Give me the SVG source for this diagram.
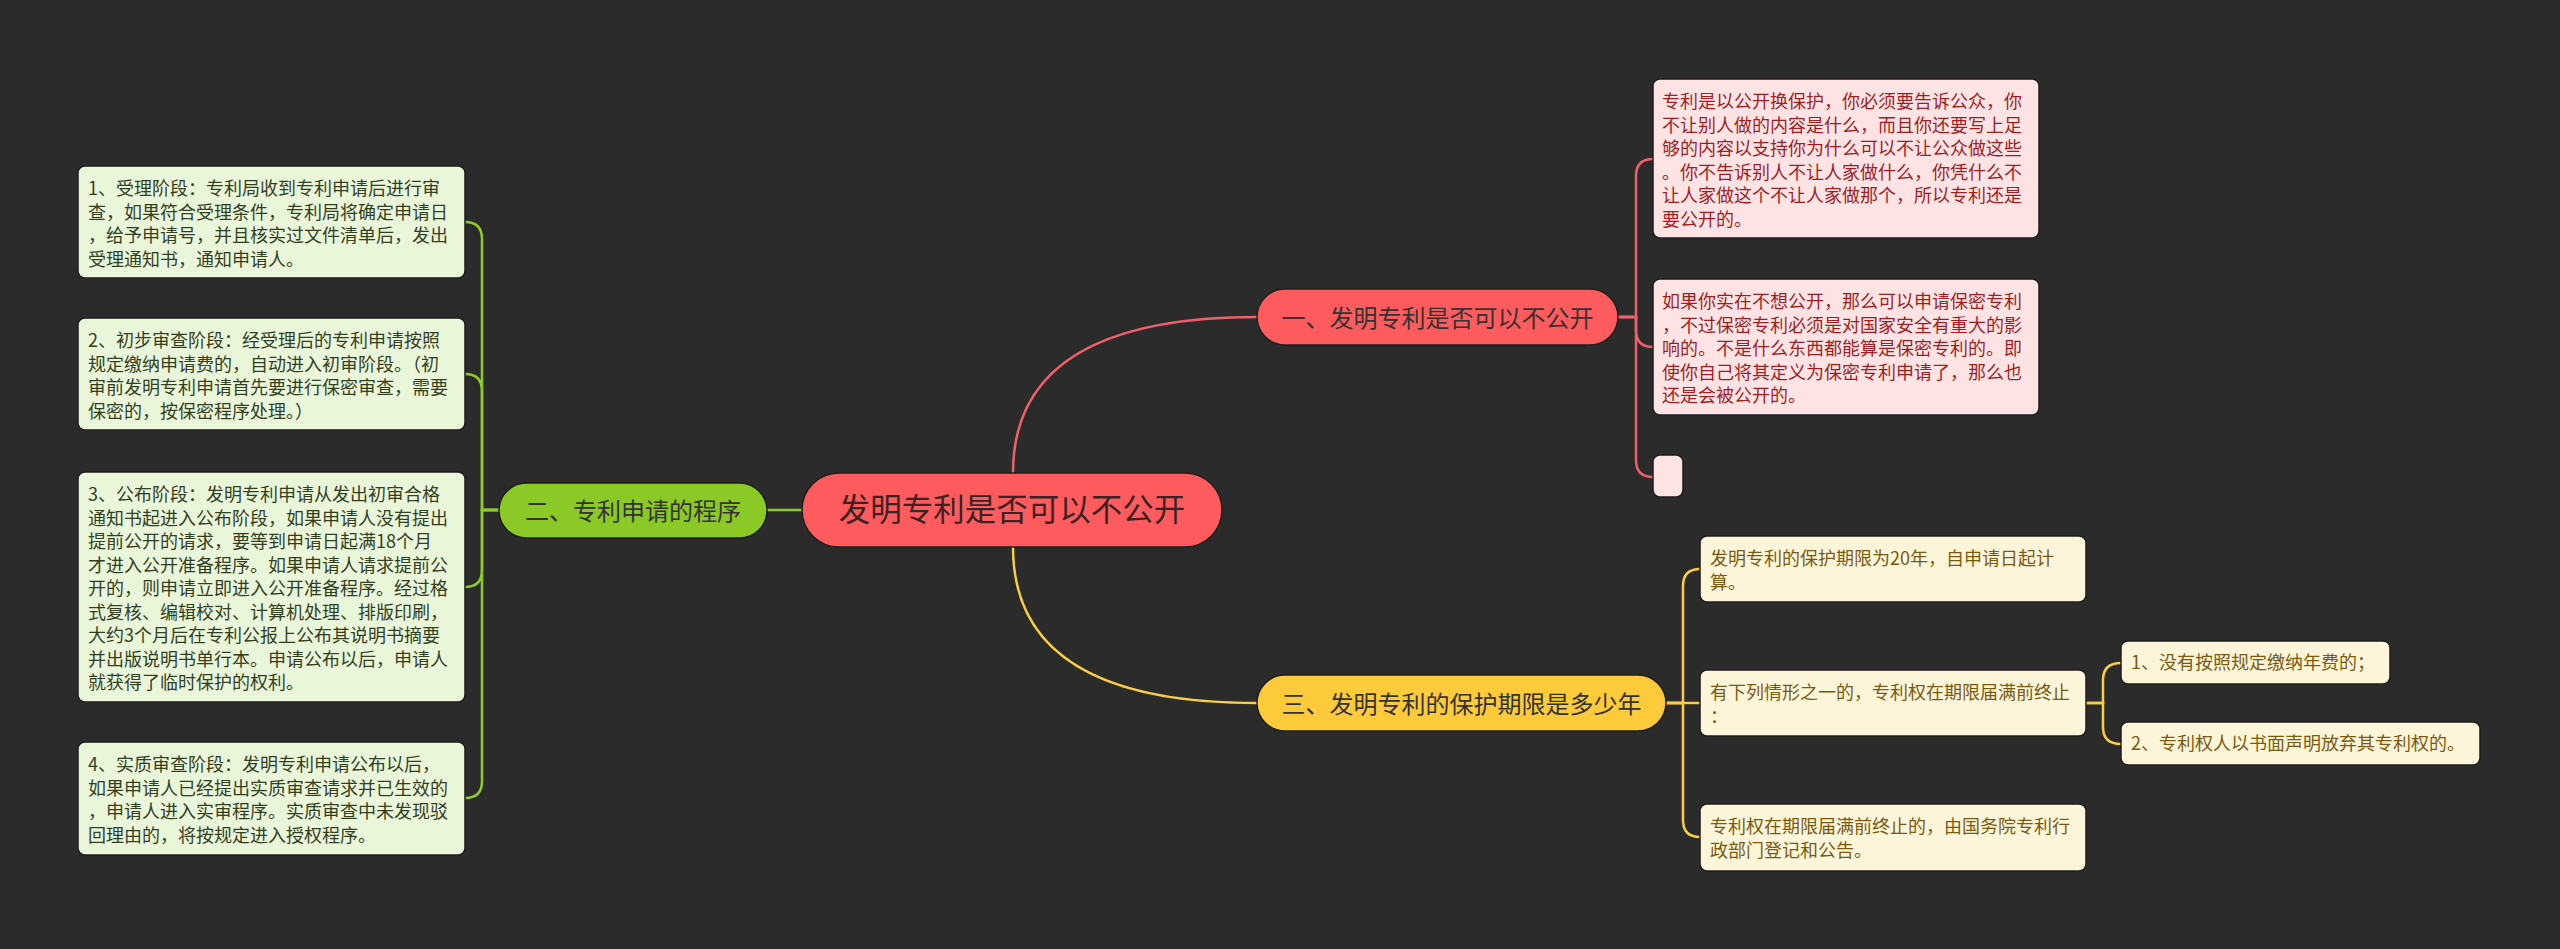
<svg xmlns="http://www.w3.org/2000/svg" width="2560" height="949" viewBox="0 0 2560 949">
<style>
text{font-family:"Noto Sans CJK SC","Noto Sans",sans-serif;}
.root{fill:#fd5b5e;stroke:#1e1e1e;stroke-width:1.5}
.rt{font-size:31.5px;fill:#3b2323;text-anchor:middle}
.br-p{fill:#fd5b5e;stroke:#1e1e1e;stroke-width:1.5}
.br-g{fill:#8bc926;stroke:#1e1e1e;stroke-width:1.5}
.br-y{fill:#fdca3b;stroke:#1e1e1e;stroke-width:1.5}
.bt{font-size:24px;fill:#333;text-anchor:middle}
.bx-g{fill:#eaf6da;stroke:#1e1e1e;stroke-width:1.5}
.bx-p{fill:#fde3e4;stroke:#1e1e1e;stroke-width:1.5}
.bx-y{fill:#fdf5da;stroke:#1e1e1e;stroke-width:1.5}
.t-g{font-size:18px;fill:#33401f}
.t-p{font-size:18px;fill:#9c1f24}
.t-y{font-size:18px;fill:#7a5a0f}
.cp{fill:none;stroke:#f0606a;stroke-width:2.5}
.cg{fill:none;stroke:#8dcb2a;stroke-width:2.5}
.cy{fill:none;stroke:#f9ce45;stroke-width:2.5}
</style>
<rect width="2560" height="949" fill="#2b2b2b"/>
<g id="connectors">
<path class="cp" d="M1013 473 Q1013 317 1257 317"/>
<path class="cy" d="M1013 547 Q1013 703 1257 703"/>
<path class="cg" d="M802 510 H767"/>
<path class="cp" d="M1618 317 H1636 V176 Q1636 159 1653 159"/>
<path class="cp" d="M1618 317 H1636 V330 Q1636 347 1653 347"/>
<path class="cp" d="M1618 317 H1636 V460 Q1636 477 1653 477"/>
<path class="cg" d="M499 510 H482 V239 Q482 222 465 222"/>
<path class="cg" d="M499 510 H482 V391 Q482 374 465 374"/>
<path class="cg" d="M499 510 H482 V570 Q482 587 465 587"/>
<path class="cg" d="M499 510 H482 V781 Q482 798 465 798"/>
<path class="cy" d="M1666 703 H1683 V586 Q1683 569 1700 569"/>
<path class="cy" d="M1666 703 H1700"/>
<path class="cy" d="M1666 703 H1683 V820 Q1683 837 1700 837"/>
<path class="cy" d="M2086 703 H2103 V680 Q2103 663 2121 663"/>
<path class="cy" d="M2086 703 H2103 V727 Q2103 744 2121 744"/>
</g>
<g id="root">
<rect class="root" x="802" y="473" width="420" height="74" rx="37"/>
<text class="rt" x="1012" y="521">发明专利是否可以不公开</text>
</g>
<g id="branch1">
<rect class="br-p" x="1257" y="289" width="361" height="56" rx="28"/>
<text class="bt" x="1437.5" y="327">一、发明专利是否可以不公开</text>
</g>
<g id="branch2">
<rect class="br-g" x="499" y="483" width="268" height="55" rx="27.5"/>
<text class="bt" x="633" y="520">二、专利申请的程序</text>
</g>
<g id="branch3">
<rect class="br-y" x="1257" y="675" width="409" height="56" rx="28"/>
<text class="bt" x="1461.5" y="713">三、发明专利的保护期限是多少年</text>
</g>
<g id="g1">
<rect class="bx-g" x="78" y="166" width="387" height="112" rx="7"/>
<text class="t-g" x="88" y="195"><tspan x="88">1、受理阶段：专利局收到专利申请后进行审</tspan><tspan x="88" dy="23.5">查，如果符合受理条件，专利局将确定申请日</tspan><tspan x="88" dy="23.5">，给予申请号，并且核实过文件清单后，发出</tspan><tspan x="88" dy="23.5">受理通知书，通知申请人。</tspan></text>
</g>
<g id="g2">
<rect class="bx-g" x="78" y="318" width="387" height="112" rx="7"/>
<text class="t-g" x="88" y="347"><tspan x="88">2、初步审查阶段：经受理后的专利申请按照</tspan><tspan x="88" dy="23.5">规定缴纳申请费的，自动进入初审阶段。（初</tspan><tspan x="88" dy="23.5">审前发明专利申请首先要进行保密审查，需要</tspan><tspan x="88" dy="23.5">保密的，按保密程序处理。）</tspan></text>
</g>
<g id="g3">
<rect class="bx-g" x="78" y="472" width="387" height="230" rx="7"/>
<text class="t-g" x="88" y="501"><tspan x="88">3、公布阶段：发明专利申请从发出初审合格</tspan><tspan x="88" dy="23.5">通知书起进入公布阶段，如果申请人没有提出</tspan><tspan x="88" dy="23.5">提前公开的请求，要等到申请日起满18个月</tspan><tspan x="88" dy="23.5">才进入公开准备程序。如果申请人请求提前公</tspan><tspan x="88" dy="23.5">开的，则申请立即进入公开准备程序。经过格</tspan><tspan x="88" dy="23.5">式复核、编辑校对、计算机处理、排版印刷，</tspan><tspan x="88" dy="23.5">大约3个月后在专利公报上公布其说明书摘要</tspan><tspan x="88" dy="23.5">并出版说明书单行本。申请公布以后，申请人</tspan><tspan x="88" dy="23.5">就获得了临时保护的权利。</tspan></text>
</g>
<g id="g4">
<rect class="bx-g" x="78" y="742" width="387" height="113" rx="7"/>
<text class="t-g" x="88" y="771"><tspan x="88">4、实质审查阶段：发明专利申请公布以后，</tspan><tspan x="88" dy="23.5">如果申请人已经提出实质审查请求并已生效的</tspan><tspan x="88" dy="23.5">，申请人进入实审程序。实质审查中未发现驳</tspan><tspan x="88" dy="23.5">回理由的，将按规定进入授权程序。</tspan></text>
</g>
<g id="p1">
<rect class="bx-p" x="1653" y="79" width="386" height="159" rx="7"/>
<text class="t-p" x="1662" y="108"><tspan x="1662">专利是以公开换保护，你必须要告诉公众，你</tspan><tspan x="1662" dy="23.5">不让别人做的内容是什么，而且你还要写上足</tspan><tspan x="1662" dy="23.5">够的内容以支持你为什么可以不让公众做这些</tspan><tspan x="1662" dy="23.5">。你不告诉别人不让人家做什么，你凭什么不</tspan><tspan x="1662" dy="23.5">让人家做这个不让人家做那个，所以专利还是</tspan><tspan x="1662" dy="23.5">要公开的。</tspan></text>
</g>
<g id="p2">
<rect class="bx-p" x="1653" y="279" width="386" height="136" rx="7"/>
<text class="t-p" x="1662" y="308"><tspan x="1662">如果你实在不想公开，那么可以申请保密专利</tspan><tspan x="1662" dy="23.5">，不过保密专利必须是对国家安全有重大的影</tspan><tspan x="1662" dy="23.5">响的。不是什么东西都能算是保密专利的。即</tspan><tspan x="1662" dy="23.5">使你自己将其定义为保密专利申请了，那么也</tspan><tspan x="1662" dy="23.5">还是会被公开的。</tspan></text>
</g>
<g id="p3">
<rect class="bx-p" x="1653" y="455" width="30" height="42" rx="7"/>
</g>
<g id="y1">
<rect class="bx-y" x="1700" y="536" width="386" height="66" rx="7"/>
<text class="t-y" x="1710" y="565"><tspan x="1710">发明专利的保护期限为20年，自申请日起计</tspan><tspan x="1710" dy="23.5">算。</tspan></text>
</g>
<g id="y2">
<rect class="bx-y" x="1700" y="670" width="386" height="66" rx="7"/>
<text class="t-y" x="1710" y="699"><tspan x="1710">有下列情形之一的，专利权在期限届满前终止</tspan><tspan x="1710" dy="23.5">：</tspan></text>
</g>
<g id="y3">
<rect class="bx-y" x="1700" y="804" width="386" height="67" rx="7"/>
<text class="t-y" x="1710" y="833"><tspan x="1710">专利权在期限届满前终止的，由国务院专利行</tspan><tspan x="1710" dy="23.5">政部门登记和公告。</tspan></text>
</g>
<g id="s1">
<rect class="bx-y" x="2121" y="641" width="269" height="43" rx="7"/>
<text class="t-y" x="2131" y="669">1、没有按照规定缴纳年费的；</text>
</g>
<g id="s2">
<rect class="bx-y" x="2121" y="722" width="359" height="43" rx="7"/>
<text class="t-y" x="2131" y="750">2、专利权人以书面声明放弃其专利权的。</text>
</g>
</svg>
